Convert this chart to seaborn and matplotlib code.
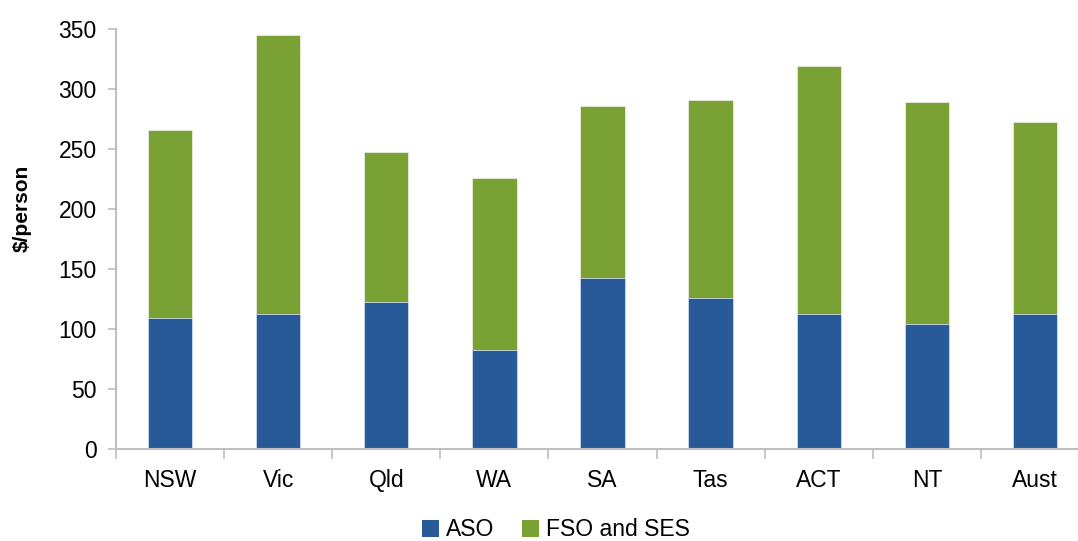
import pandas as pd
import matplotlib
matplotlib.use('Agg')
import matplotlib.pyplot as plt
import seaborn as sns
from matplotlib.patches import Patch

# Values ($/person)
states = ['NSW', 'Vic', 'Qld', 'WA', 'SA', 'Tas', 'ACT', 'NT', 'Aust']
aso = [109.0, 112.6, 122.3, 82.4, 142.3, 125.6, 112.3, 104.0, 112.3]
fso_ses = [156.7, 231.9, 125.1, 143.1, 143.4, 165.1, 206.9, 185.0, 160.1]
y_ticks = [0, 50, 100, 150, 200, 250, 300, 350]

blue = '#285A99'
green = '#79A133'
grey = '#BFBFBF'

df = pd.DataFrame({'State': states, 'ASO': aso, 'FSO and SES': fso_ses})
df['Total'] = df['ASO'] + df['FSO and SES']

sns.set_style('white')
plt.rcParams['font.family'] = ['Liberation Sans', 'DejaVu Sans']
plt.rcParams['text.color'] = 'black'

fig = plt.figure(figsize=(10.78, 5.41), dpi=100)
ax = fig.add_axes([116 / 1078, (541 - 449.3) / 541, (1089 - 116) / 1078, 420.6 / 541])

# stacked bars: total in green, ASO drawn over it in blue
sns.barplot(data=df, x='State', y='Total', color=green, width=0.41, errorbar=None,
            saturation=1, edgecolor='#E8EEDD', linewidth=0.6, ax=ax)
sns.barplot(data=df, x='State', y='ASO', color=blue, width=0.41, errorbar=None,
            saturation=1, edgecolor='#D0DCEB', linewidth=0.6, ax=ax)

ax.set_ylim(0, 350)
ax.set_xlim(-0.5, len(states) - 0.5)
ax.set_yticks(y_ticks)
ax.set_xlabel('')
ax.set_ylabel('')

# x ticks sit between categories
ax.set_xticks(range(len(states)))
ax.set_xticklabels(states)
ax.set_xticks([i - 0.5 for i in range(len(states) + 1)], minor=True)
ax.tick_params(axis='x', which='major', length=0, pad=14, labelsize=16.5, colors='black')
ax.tick_params(axis='x', which='minor', length=7, width=1.2, color=grey, direction='out')
ax.tick_params(axis='y', which='major', length=6, width=1.2, color=grey, direction='out',
               pad=8, labelsize=16.5, labelcolor='black')
ax.tick_params(bottom=True, left=True)
ax.xaxis.set_tick_params(which='minor', bottom=True)

for side in ['top', 'right']:
    ax.spines[side].set_visible(False)
for side in ['left', 'bottom']:
    ax.spines[side].set_color(grey)
    ax.spines[side].set_linewidth(1.5)

fig.text(22 / 1078, 1 - 208 / 541, '$/person', rotation=90, ha='center', va='center',
         fontsize=15, fontweight='bold', color='black')

handles = [Patch(facecolor=blue, edgecolor='none', label='ASO'),
           Patch(facecolor=green, edgecolor='none', label='FSO and SES')]
fig.legend(handles=handles, loc='center', bbox_to_anchor=(556 / 1078, 1 - 530 / 541),
           ncol=2, frameon=False, fontsize=16.5, handlelength=0.75, handleheight=0.75,
           handletextpad=0.3, columnspacing=1.2, labelcolor='black')

fig.savefig('out.png', dpi=100)
